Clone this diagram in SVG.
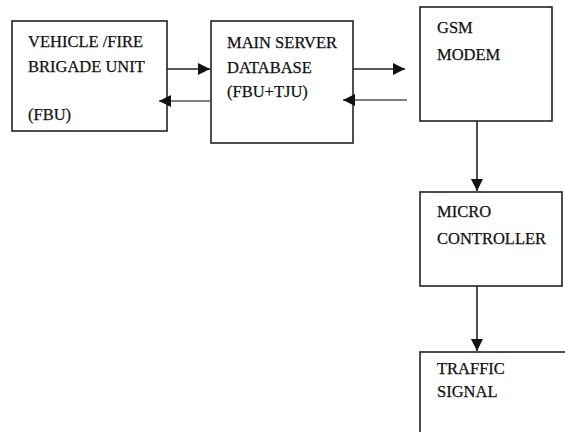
<svg xmlns="http://www.w3.org/2000/svg" width="565" height="432" viewBox="0 0 565 432">
<defs>
<style>
.box{fill:#fff;stroke:#222;stroke-width:1.6}
.t{font-family:"Liberation Serif","Times New Roman",serif;font-size:16.5px;fill:#111;stroke:#111;stroke-width:0.25}
.c{stroke:#222;stroke-width:1.6;fill:none}
.c2{stroke:#555;stroke-width:1.6;fill:none}
</style>
<marker id="ah" viewBox="0 0 12 12" refX="12" refY="6" markerWidth="12" markerHeight="12" markerUnits="userSpaceOnUse" orient="auto">
<path d="M0,0 L12,6 L0,12 Z" fill="#111"/>
</marker>
</defs>
<rect width="565" height="432" fill="#fff"/>
<g id="fbu">
<rect class="box" x="12" y="21" width="155" height="110"/>
<text class="t" x="28" y="47">VEHICLE /FIRE</text>
<text class="t" x="28" y="72">BRIGADE UNIT</text>
<text class="t" x="28" y="120">(FBU)</text>
</g>
<g id="server">
<rect class="box" x="211" y="21" width="142" height="122"/>
<text class="t" x="227" y="48">MAIN SERVER</text>
<text class="t" x="227" y="73">DATABASE</text>
<text class="t" x="227" y="97">(FBU+TJU)</text>
</g>
<g id="gsm">
<rect class="box" x="420" y="7" width="132" height="114"/>
<text class="t" x="437" y="33">GSM</text>
<text class="t" x="437" y="60">MODEM</text>
</g>
<g id="micro">
<rect class="box" x="420" y="192" width="142" height="94"/>
<text class="t" x="437" y="217">MICRO</text>
<text class="t" x="437" y="244">CONTROLLER</text>
</g>
<g id="traffic">
<rect class="box" x="420" y="352" width="160" height="100"/>
<text class="t" x="437" y="374">TRAFFIC</text>
<text class="t" x="437" y="397">SIGNAL</text>
</g>
<g id="connectors">
<line class="c" x1="167" y1="69" x2="210" y2="69" marker-end="url(#ah)"/>
<line class="c2" x1="212" y1="101" x2="159" y2="101" marker-end="url(#ah)"/>
<line class="c" x1="353" y1="69" x2="405" y2="69" marker-end="url(#ah)"/>
<line class="c2" x1="407" y1="100" x2="343" y2="100" marker-end="url(#ah)"/>
<line class="c" x1="477" y1="121" x2="477" y2="191" marker-end="url(#ah)"/>
<line class="c" x1="477" y1="286" x2="477" y2="351" marker-end="url(#ah)"/>
</g>
</svg>
